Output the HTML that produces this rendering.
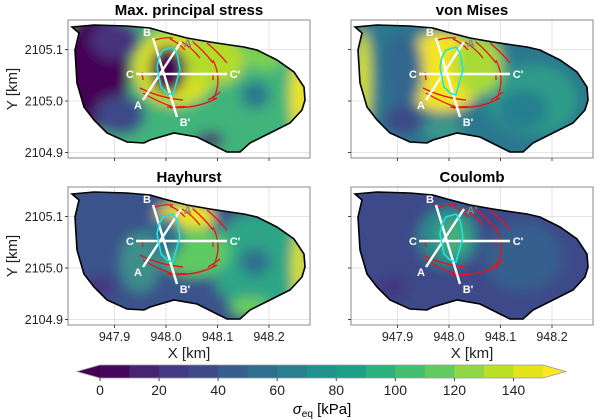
<!DOCTYPE html>
<html><head><meta charset="utf-8"><style>
html,body{margin:0;padding:0;background:#fff;}
svg{display:block;font-family:"Liberation Sans","DejaVu Sans",sans-serif;}
</style></head><body>
<svg id="fig" width="600" height="420" viewBox="0 0 600 420">
<defs>
<clipPath id="glac"><path id="gp" d="M72,27 L94,25 L127,26 L150,28 L164,32 L187,38 L210,42 L230,45 L244,47 L257,50 L277,60 L294,72 L304,87 L305,100 L302,110 L290,123 L270,133 L250,143 L240,152 L227,152 L217,147 L197,137 L174,133 L150,140 L144,143 L127,142 L107,133 L94,120 L84,107 L77,83 L75,50 L79,33 Z"/></clipPath>
<filter id="bl" x="-20%" y="-20%" width="140%" height="140%"><feGaussianBlur stdDeviation="6"/></filter>
</defs>
<g id="panels"></g>
<g id="cbar"></g>
<text x="322" y="414" text-anchor="middle" font-size="15" fill="#000"><tspan font-style="italic">σ</tspan><tspan font-size="10" dy="3">eq</tspan><tspan dy="-3"> [kPa]</tspan></text>
</svg>
<script>
const xTicks = [947.9, 948.0, 948.1, 948.2];
const yTicks = [2104.9, 2105.0, 2105.1];
const cbTicks = [0, 20, 40, 60, 80, 100, 120, 140];
const cbLevels = [0,10,20,30,40,50,60,70,80,90,100,110,120,130,140,150];
const titles = ["Max. principal stress", "von Mises", "Hayhurst", "Coulomb"];
const cbColors = ["#46085c","#482475","#443983","#3f4a89","#355f8d","#2e6f8e","#287f8e","#21918c","#1f9f88","#2db27d","#44bf70","#62cb5f","#8fd744","#bddf26","#e5e419"];
// blobs per panel: [cx, cy, rx, ry, color]
const blobs = [
 [[190,80,200,120,"#3fb47a"],[95,70,35,60,"#440154"],[115,40,25,20,"#46337e"],[120,115,25,20,"#3e4a89"],[175,68,42,38,"#d6e21f"],[215,60,30,25,"#b3dc2b"],[168,70,18,24,"#440154"],[255,95,15,14,"#2a788e"],[210,140,14,8,"#482475"],[300,95,10,40,"#f0e51c"],[265,55,20,15,"#7ad151"]],
 [[190,85,200,120,"#2a788e"],[250,100,45,35,"#2e9b8a"],[160,72,42,40,"#f4e51e"],[120,70,20,40,"#31688e"],[80,80,8,50,"#d7e219"],[195,65,25,30,"#a8db34"],[120,120,20,15,"#3e4a89"],[240,110,25,20,"#287f8e"],[160,130,20,10,"#3f9a8a"]],
 [[190,85,200,120,"#3b528b"],[260,95,50,50,"#2fa586"],[185,50,30,15,"#f0e51c"],[195,85,35,25,"#5ec962"],[165,70,18,22,"#2c728e"],[300,100,8,40,"#e0e31a"],[140,95,20,30,"#3e8f8b"],[255,95,15,14,"#2e6f8e"],[100,120,15,10,"#46337e"],[250,140,20,10,"#6ccd5a"]],
 [[190,85,200,120,"#3e4a89"],[165,70,30,30,"#2a8a8c"],[170,70,15,20,"#45ae7c"],[240,90,40,35,"#355f8d"],[110,120,15,10,"#433581"]]
];
const NS="http://www.w3.org/2000/svg";
function mk(tag, attrs, parent){const e=document.createElementNS(NS,tag);for(const k in attrs)e.setAttribute(k,attrs[k]);parent.appendChild(e);return e;}
const X0=68, W=242, Y0=20, H=138;
function xs(v){return 166+(v-948.0)*515;}
function ys(v){return 101-(v-2105.0)*515;}
const offs=[[0,0],[283,0],[0,167],[283,167]];
const root=document.getElementById('panels');
const redArcs=["M155,40 Q164,37 173,38","M170,39 Q179,43 185,50","M182,42 Q192,48 200,58","M193,42 Q204,51 213,63","M207,43 Q218,52 227,63","M213,60 Q223,80 213,100","M140,88 Q160,98 183,100","M143,93 Q158,102 173,107","M167,107 Q195,110 217,98","M170,108 Q178,106 187,107","M142,72 L143,80","M213,74 L213,80","M208,100 Q215,96 220,92"];
for(let p=0;p<4;p++){
 const [ox,oy]=offs[p];
 const g=mk('g',{transform:`translate(${ox},${oy})`},root);
 
 
 xTicks.forEach(v=>{const l=mk('line',{x1:xs(v),x2:xs(v),y1:Y0,y2:Y0+H,stroke:'#ddd','stroke-width':0.8},g);});
 yTicks.forEach(v=>{const l=mk('line',{x1:X0,x2:X0+W,y1:ys(v),y2:ys(v),stroke:'#ddd','stroke-width':0.8},g);});
 const cg=mk('g',{'clip-path':'url(#glac)'},g);
 
 
 const bg=mk('g',{filter:'url(#bl)'},cg);
 blobs[p].forEach(b=>{const e=mk('ellipse',{cx:b[0],cy:b[1],rx:b[2],ry:b[3],fill:b[4]},bg);});
 const ol=mk('use',{href:'#gp',fill:'none',stroke:'#000','stroke-width':1.6},g);
 
 
 redArcs.forEach(d=>{const e=mk('path',{d:d,fill:'none',stroke:'#e8141c','stroke-width':1.3},g);});
 [[136,74,227,74],[143,100,181,42],[153,38,177,117]].forEach(s=>{const e=mk('line',{x1:s[0],y1:s[1],x2:s[2],y2:s[3],stroke:'#fff','stroke-width':2.4},g);});
 const cy=mk('path',{d:'M163,50 L173,47 L177,53 L180,70 L177,80 L173,95 L167,93 L161,87 L157,67 L159,57 Z',fill:'none',stroke:'#19e3e8','stroke-width':1.6},g);
 
 
 [["C",130,78],["C'",235,78],["A",138,109],["A'",189,47],["B",147,36],["B'",185,126]].forEach(t=>{const e=mk('text',{x:t[1],y:t[2],'text-anchor':'middle','font-size':11,'font-weight':'bold',fill:t[0]==="A'"?'#888':'#fff'},g);e.textContent=t[0];});
 const fr=mk('rect',{x:X0,y:Y0,width:W,height:H,fill:'none',stroke:'#888','stroke-width':1},g);
 
 
 const tt=mk('text',{x:X0+W/2,y:15,'text-anchor':'middle','font-size':15,'font-weight':'bold',fill:'#000'},g);
 tt.textContent=titles[p];
 
 
 yTicks.forEach(v=>{mk('line',{x1:X0-3,x2:X0,y1:ys(v),y2:ys(v),stroke:'#444'},g);
  if(p%2===0){const e=mk('text',{x:X0-5,y:ys(v)+4.5,'text-anchor':'end','font-size':12.5,fill:'#222'},g);e.textContent=v.toFixed(1);}});
 xTicks.forEach(v=>{mk('line',{x1:xs(v),x2:xs(v),y1:Y0+H,y2:Y0+H+3,stroke:'#444'},g);
  if(p>=2){const e=mk('text',{x:xs(v),y:Y0+H+16,'text-anchor':'middle','font-size':12.5,fill:'#222'},g);e.textContent=v.toFixed(1);}});
 if(p%2===0){const e=mk('text',{x:17,y:Y0+H/2,'text-anchor':'middle','font-size':15,fill:'#222',transform:`rotate(-90 17 ${Y0+H/2})`},g);e.textContent='Y [km]';}
 if(p>=2){const e=mk('text',{x:X0+W/2,y:Y0+H+33,'text-anchor':'middle','font-size':15,fill:'#222'},g);e.textContent='X [km]';}
}
const cb=document.getElementById('cbar');
const cL=100,cR=543,cT=365,cB=378;
function cx(v){return cL+(v-cbLevels[0])/(cbLevels[cbLevels.length-1]-cbLevels[0])*(cR-cL);}
for(let i=0;i<cbColors.length;i++){
 const r=mk('rect',{x:cx(cbLevels[i]),y:cT,width:cx(cbLevels[i+1])-cx(cbLevels[i])+0.5,height:cB-cT,fill:cbColors[i]},cb);
 
 
}
const lt=mk('polygon',{points:`${cL},${cT} 77,${(cT+cB)/2} ${cL},${cB}`,fill:'#440154'},cb);


const rt=mk('polygon',{points:`${cR},${cT} 566,${(cT+cB)/2} ${cR},${cB}`,fill:'#fde725'},cb);


mk('polygon',{points:`${cL},${cT} 77,${(cT+cB)/2} ${cL},${cB} ${cR},${cB} 566,${(cT+cB)/2} ${cR},${cT}`,fill:'none',stroke:'#999','stroke-width':0.8},cb);
cbTicks.forEach(v=>{mk('line',{x1:cx(v),x2:cx(v),y1:cB,y2:cB+3,stroke:'#444'},cb);const e=mk('text',{x:cx(v),y:cB+17,'text-anchor':'middle','font-size':14,fill:'#222'},cb);e.textContent=v;});
</script>
</body></html>
